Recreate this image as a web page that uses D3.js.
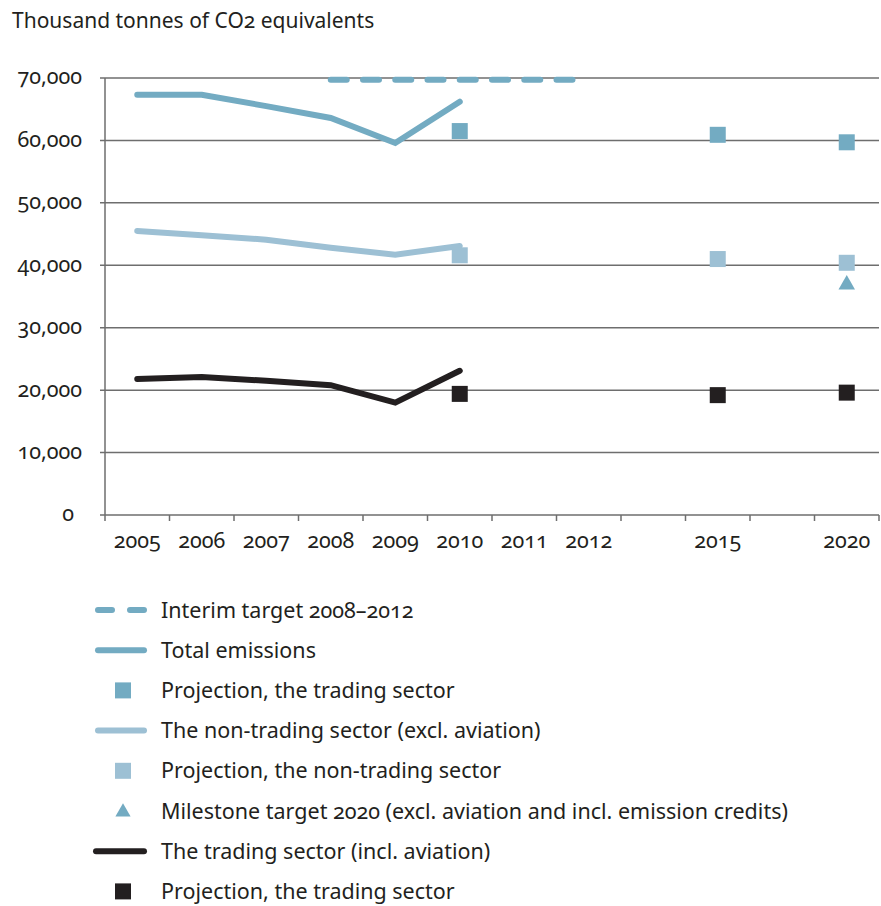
<!DOCTYPE html>
<html>
<head>
<meta charset="utf-8">
<script src="https://cdn.jsdelivr.net/npm/d3@7"></script>
<style>
body { margin: 0; background: #fff; }
text { font-family: "Noto Sans", sans-serif; fill: #231f20; font-variant-numeric: oldstyle-nums; font-feature-settings: "onum"; }
</style>
</head>
<body>
<svg id="chart" width="881" height="906"></svg>
<script>
// x slots: one band per year, with blank bands between 2012, 2015 and 2020
var slots = ["2005", "2006", "2007", "2008", "2009", "2010", "2011", "2012", "gap1", "2015", "gap2", "2020"];
var yTicks = [0, 10000, 20000, 30000, 40000, 50000, 60000, 70000];

var lineYears = ["2005", "2006", "2007", "2008", "2009", "2010"];
var totalEmissions = [67300, 67300, 65500, 63600, 59600, 66200];
var nonTrading = [45500, 44800, 44100, 42800, 41700, 43100];
var trading = [21800, 22100, 21500, 20800, 18000, 23100];

var projYears = ["2010", "2015", "2020"];
var projTotal = [61500, 60900, 59700];
var projNonTrading = [41600, 41000, 40400];
var projTrading = [19400, 19200, 19600];

var targetYears = ["2008", "2009", "2010", "2011", "2012"];
var interimTarget = [69700, 69700, 69700, 69700, 69700];

var milestoneYears = ["2020"];
var milestone = [36900];

var legendLabels = [
	"Interim target 2008\u20132012",
	"Total emissions",
	"Projection, the trading sector",
	"The non-trading sector (excl. aviation)",
	"Projection, the non-trading sector",
	"Milestone target 2020 (excl. aviation and incl. emission credits)",
	"The trading sector (incl. aviation)",
	"Projection, the trading sector"
];

var blue = "#73abc2", lightBlue = "#9dc0d4", dark = "#231f20", grid = "#6e6e6e";

var svg = d3.select("#chart");
var plotLeft = 105, plotRight = 879, plotTop = 78, plotBottom = 515;

var x = d3.scaleBand().domain(slots).range([plotLeft, plotRight]);
var y = d3.scaleLinear().domain([0, 70000]).range([plotBottom, plotTop]);
var cx = function(k) { return x(k) + x.bandwidth() / 2; };

svg.append("text")
	.attr("x", 12).attr("y", 28)
	.attr("font-size", 21)
	.text("Thousand tonnes of CO2 equivalents");

// gridlines and y labels
svg.append("g").selectAll("line")
	.data(yTicks)
	.enter().append("line")
	.attr("x1", plotLeft - 5).attr("x2", plotRight)
	.attr("y1", function(d) { return y(d); })
	.attr("y2", function(d) { return y(d); })
	.attr("stroke", grid).attr("stroke-width", 1.5);

svg.append("g").selectAll("text")
	.data(yTicks)
	.enter().append("text")
	.attr("x", function(d) { return d == 0 ? 74 : 82; })
	.attr("y", function(d) { return y(d); })
	.attr("dy", "0.3em")
	.attr("text-anchor", "end")
	.attr("font-size", 21.5)
	.text(d3.format(","));

svg.append("line")
	.attr("x1", plotLeft).attr("x2", plotLeft)
	.attr("y1", plotTop).attr("y2", plotBottom)
	.attr("stroke", grid).attr("stroke-width", 1.5);

// x ticks at band edges
var edges = slots.map(function(s) { return x(s); }).concat([plotRight]);
svg.append("g").selectAll("line")
	.data(edges)
	.enter().append("line")
	.attr("x1", function(d) { return d; }).attr("x2", function(d) { return d; })
	.attr("y1", plotBottom).attr("y2", plotBottom + 6)
	.attr("stroke", grid).attr("stroke-width", 1.5);

svg.append("g").selectAll("text")
	.data(slots.filter(function(s) { return s.indexOf("gap") < 0; }))
	.enter().append("text")
	.attr("x", function(d) { return cx(d); })
	.attr("y", 548)
	.attr("text-anchor", "middle")
	.attr("font-size", 21.5)
	.text(function(d) { return d; });

// lines
var line = d3.line()
	.x(function(d) { return cx(d[0]); })
	.y(function(d) { return y(d[1]); });

function drawLine(years, values, color, dash) {
	svg.append("path")
		.datum(d3.zip(years, values))
		.attr("d", line)
		.attr("fill", "none")
		.attr("stroke", color)
		.attr("stroke-width", 6)
		.attr("stroke-linecap", "round")
		.attr("stroke-dasharray", dash || null);
}

drawLine(targetYears, interimTarget, blue, "16 16.25");
drawLine(lineYears, totalEmissions, blue);
drawLine(lineYears, nonTrading, lightBlue);
drawLine(lineYears, trading, dark);

function drawSquares(years, values, color) {
	svg.append("g").selectAll("rect")
		.data(d3.zip(years, values))
		.enter().append("rect")
		.attr("x", function(d) { return cx(d[0]) - 8; })
		.attr("y", function(d) { return y(d[1]) - 8; })
		.attr("width", 16).attr("height", 16)
		.attr("fill", color);
}

drawSquares(projYears, projTotal, blue);
drawSquares(projYears, projNonTrading, lightBlue);
drawSquares(projYears, projTrading, dark);

svg.append("g").selectAll("path")
	.data(d3.zip(milestoneYears, milestone))
	.enter().append("path")
	.attr("d", d3.symbol(d3.symbolTriangle, 118))
	.attr("transform", function(d) { return "translate(" + cx(d[0]) + "," + y(d[1]) + ")"; })
	.attr("fill", blue);

// legend
var legendKinds = ["dash", "line", "square", "line", "square", "triangle", "line", "square"];
var legendColors = [blue, blue, blue, lightBlue, lightBlue, blue, dark, dark];

var lg = svg.append("g").selectAll("g")
	.data(legendLabels)
	.enter().append("g")
	.attr("transform", function(d, i) { return "translate(0," + (610 + i * 40.2) + ")"; });

lg.each(function(d, i) {
	var g = d3.select(this);
	var kind = legendKinds[i], col = legendColors[i];
	if (kind == "dash" || kind == "line") {
		g.append("line")
			.attr("x1", col == dark ? 96 : 98).attr("x2", 144)
			.attr("stroke", col).attr("stroke-width", 6)
			.attr("stroke-linecap", "round")
			.attr("stroke-dasharray", kind == "dash" ? "14 18" : null);
	} else if (kind == "square") {
		g.append("rect")
			.attr("x", 115).attr("y", -8)
			.attr("width", 16).attr("height", 16)
			.attr("fill", col);
	} else {
		g.append("path")
			.attr("d", d3.symbol(d3.symbolTriangle, 100))
			.attr("transform", "translate(123,1)")
			.attr("fill", col);
	}
	g.append("text")
		.attr("x", 161).attr("dy", "0.35em")
		.attr("font-size", 21.5)
		.text(d);
});
</script>
</body>
</html>
